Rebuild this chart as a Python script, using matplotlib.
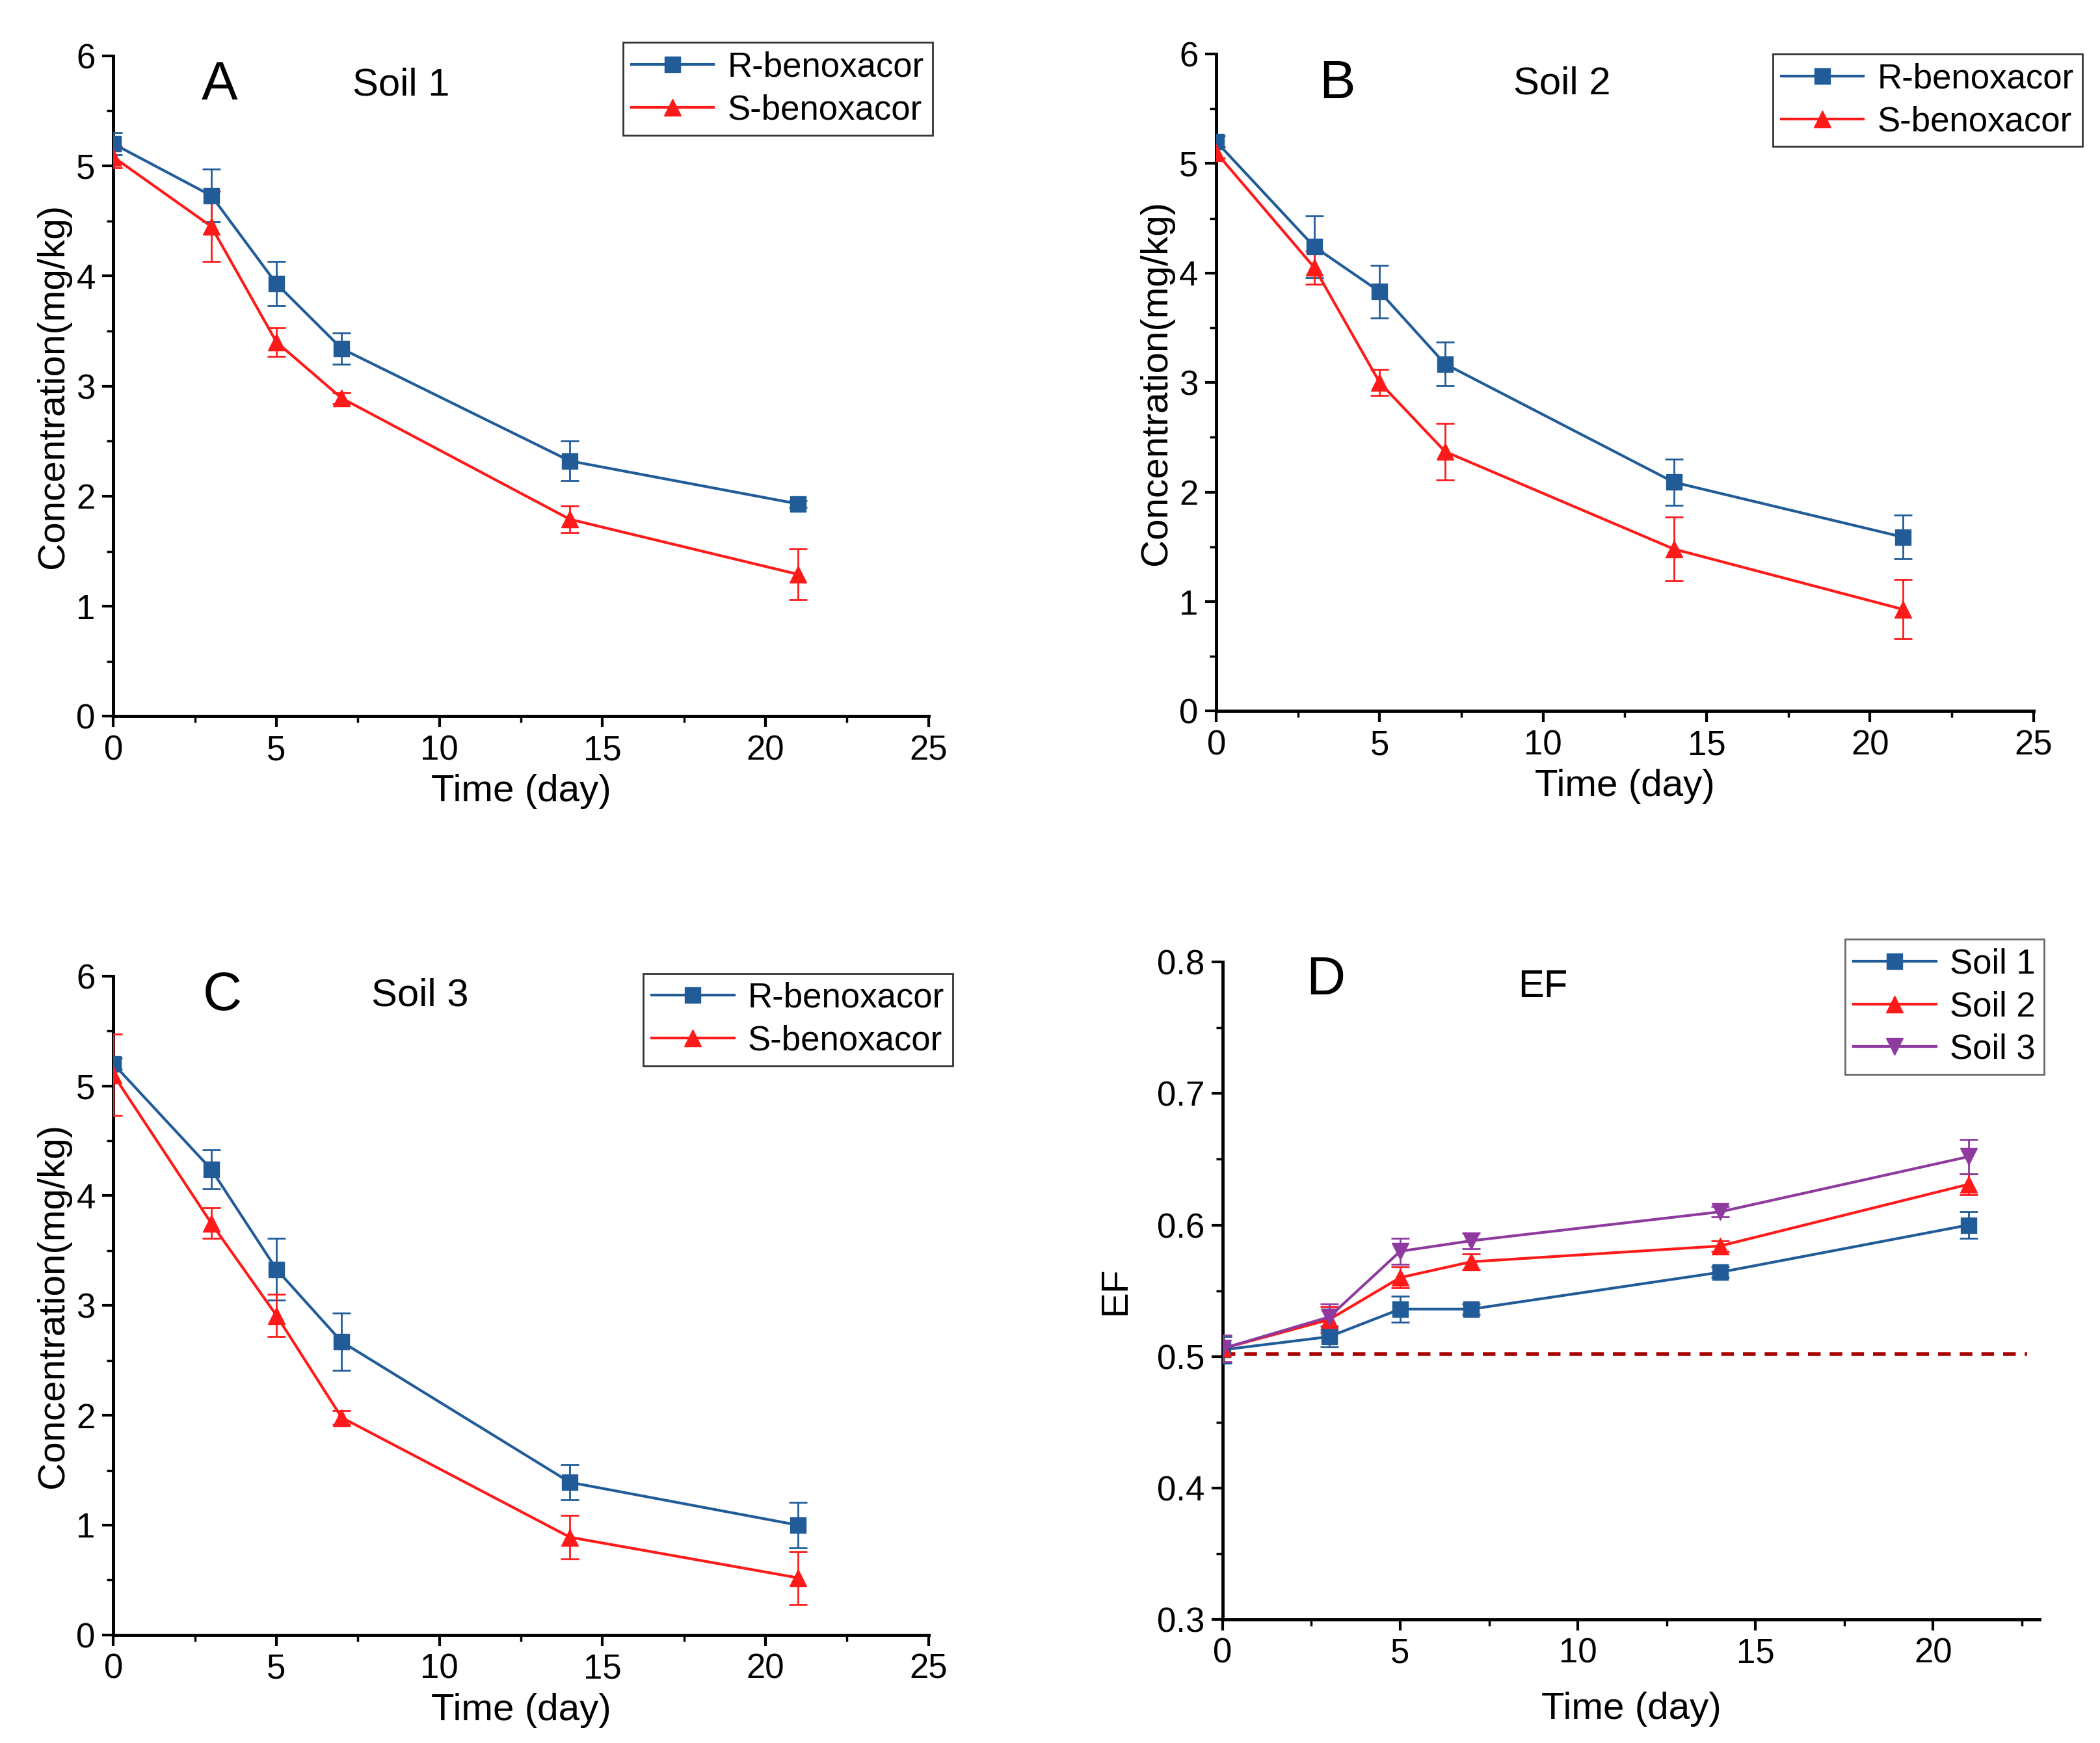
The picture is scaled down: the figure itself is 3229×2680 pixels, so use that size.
import numpy as np
import matplotlib
matplotlib.use('Agg')
import matplotlib.pyplot as plt
from matplotlib.ticker import MultipleLocator
from matplotlib.lines import Line2D

plt.rcParams['font.family'] = ['Liberation Sans', 'DejaVu Sans']

# Data
days = [0, 3, 5, 7, 14, 21]

soil1_r = [5.20, 4.73, 3.93, 3.34, 2.32, 1.93]
soil1_r_err = [0.10, 0.24, 0.20, 0.14, 0.18, 0.03]
soil1_s = [5.08, 4.45, 3.40, 2.89, 1.79, 1.29]
soil1_s_err = [0.10, 0.32, 0.13, 0.05, 0.12, 0.23]

soil2_r = [5.20, 4.24, 3.83, 3.17, 2.09, 1.59]
soil2_r_err = [0.05, 0.28, 0.24, 0.20, 0.21, 0.20]
soil2_s = [5.10, 4.05, 3.00, 2.37, 1.48, 0.93]
soil2_s_err = [0.05, 0.15, 0.12, 0.26, 0.29, 0.27]

soil3_r = [5.20, 4.24, 3.33, 2.67, 1.39, 1.00]
soil3_r_err = [0.05, 0.18, 0.28, 0.26, 0.16, 0.21]
soil3_s = [5.10, 3.75, 2.91, 1.98, 0.89, 0.52]
soil3_s_err = [0.37, 0.14, 0.19, 0.06, 0.20, 0.24]

ef_soil1 = [0.505, 0.515, 0.536, 0.536, 0.564, 0.600]
ef_soil1_err = [0.010, 0.008, 0.010, 0.004, 0.004, 0.010]
ef_soil2 = [0.506, 0.528, 0.560, 0.572, 0.584, 0.631]
ef_soil2_err = [0.010, 0.010, 0.008, 0.006, 0.004, 0.008]
ef_soil3 = [0.506, 0.530, 0.580, 0.588, 0.610, 0.652]
ef_soil3_err = [0.010, 0.010, 0.010, 0.006, 0.004, 0.013]
ef_ref = 0.502

blue = '#215c98'
red = '#ff1a1a'
purple = '#8e3a9e'

fig = plt.figure(figsize=(32.3, 26.8), dpi=100)

tick_fs = 38
label_fs = 42
letter_fs = 60
title_fs = 43
leg_fs = 38


def style_axes(ax):
    for s in ['top', 'right']:
        ax.spines[s].set_visible(False)
    for s in ['left', 'bottom']:
        ax.spines[s].set_linewidth(3.5)
    ax.tick_params(which='major', direction='out', length=12, width=3, labelsize=tick_fs, pad=8)
    ax.tick_params(which='minor', direction='out', length=7, width=2.5)


def series(ax, y, err, color, marker, ms):
    ax.errorbar(days, y, yerr=err, color=color, marker=marker, ms=ms, lw=3,
                elinewidth=2, capsize=10, capthick=2, zorder=3)
    return Line2D([], [], color=color, marker=marker, ms=ms, lw=3)


def add_legend(ax, handles, labels, anchor, edge):
    leg = ax.legend(handles, labels, loc='upper right', bbox_to_anchor=anchor, fontsize=leg_fs,
                    frameon=True, fancybox=False, edgecolor=edge, handlelength=2.4,
                    borderpad=0.25, labelspacing=0.3, handletextpad=0.4, borderaxespad=0)
    leg.get_frame().set_linewidth(2)


def conc_panel(rect, r, r_err, s, s_err, letter, title, letter_xy, title_xy, leg_anchor):
    ax = fig.add_axes(rect)
    h1 = series(ax, r, r_err, blue, 's', 17)
    h2 = series(ax, s, s_err, red, '^', 19)
    ax.set_xlim(0, 25)
    ax.set_ylim(0, 6)
    ax.xaxis.set_major_locator(MultipleLocator(5))
    ax.xaxis.set_minor_locator(MultipleLocator(2.5))
    ax.yaxis.set_major_locator(MultipleLocator(1))
    ax.yaxis.set_minor_locator(MultipleLocator(0.5))
    style_axes(ax)
    ax.set_xlabel('Time (day)', fontsize=label_fs, labelpad=8)
    ax.set_ylabel('Concentration(mg/kg)', fontsize=label_fs, labelpad=6)
    ax.text(letter_xy[0], letter_xy[1], letter, transform=ax.transAxes,
            fontsize=letter_fs, ha='center', va='center')
    ax.text(title_xy[0], title_xy[1], title, transform=ax.transAxes,
            fontsize=title_fs, ha='center', va='center')
    add_legend(ax, [h1, h2], ['R-benoxacor', 'S-benoxacor'], leg_anchor, 'black')
    return ax


conc_panel([0.054, 0.589, 0.388, 0.379], soil1_r, soil1_r_err, soil1_s, soil1_s_err,
           'A', 'Soil 1', (0.13, 0.955), (0.353, 0.955), (1.005, 1.02))
conc_panel([0.579, 0.592, 0.389, 0.377], soil2_r, soil2_r_err, soil2_s, soil2_s_err,
           'B', 'Soil 2', (0.148, 0.955), (0.423, 0.955), (1.06, 1.0))
conc_panel([0.054, 0.062, 0.388, 0.378], soil3_r, soil3_r_err, soil3_s, soil3_s_err,
           'C', 'Soil 3', (0.134, 0.97), (0.376, 0.97), (1.03, 1.004))

# Panel D: enantiomeric fraction
ax = fig.add_axes([0.582, 0.071, 0.389, 0.377])
ax.axhline(ef_ref, xmax=0.985, color='#a80000', lw=4, ls=(0, (3.5, 2.5)), zorder=1)
h1 = series(ax, ef_soil1, ef_soil1_err, blue, 's', 17)
h2 = series(ax, ef_soil2, ef_soil2_err, red, '^', 19)
h3 = series(ax, ef_soil3, ef_soil3_err, purple, 'v', 19)
ax.set_xlim(0, 23)
ax.set_ylim(0.3, 0.8)
ax.xaxis.set_major_locator(MultipleLocator(5))
ax.xaxis.set_minor_locator(MultipleLocator(2.5))
ax.yaxis.set_major_locator(MultipleLocator(0.1))
ax.yaxis.set_minor_locator(MultipleLocator(0.05))
style_axes(ax)
ax.set_xlabel('Time (day)', fontsize=label_fs, labelpad=24)
ax.set_ylabel('EF', fontsize=label_fs, labelpad=26)
ax.text(0.126, 0.973, 'D', transform=ax.transAxes, fontsize=letter_fs, ha='center', va='center')
ax.text(0.392, 0.962, 'EF', transform=ax.transAxes, fontsize=title_fs, ha='center', va='center')
add_legend(ax, [h1, h2, h3], ['Soil 1', 'Soil 2', 'Soil 3'], (1.005, 1.035), '#444444')

fig.savefig('out.png', dpi=100)
